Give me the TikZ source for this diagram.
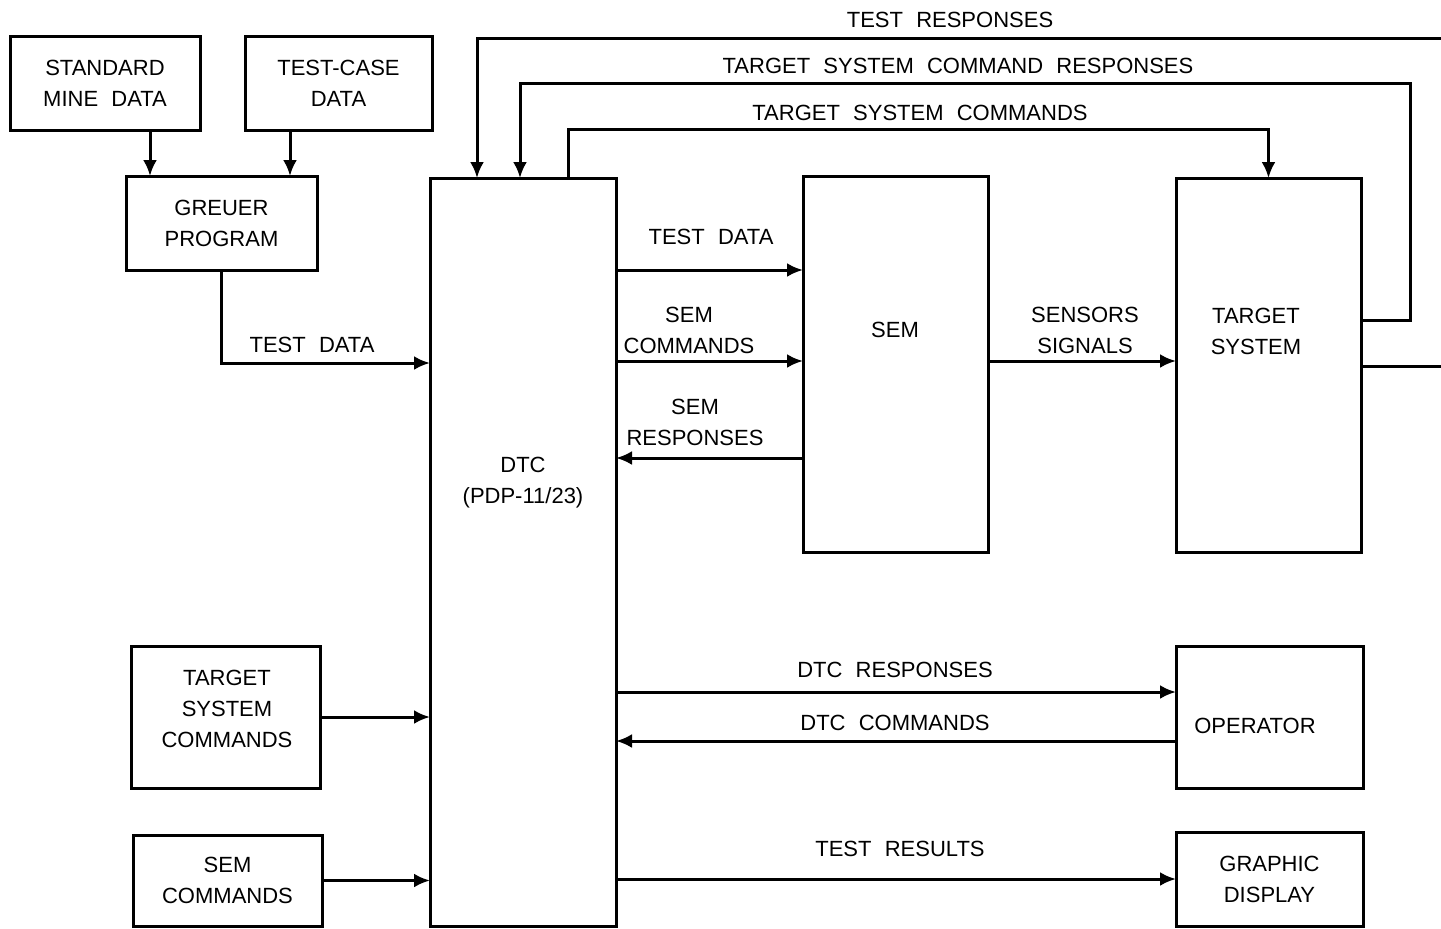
\documentclass[tikz,border=0pt]{standalone}
\usepackage{fontspec}
\setmainfont{Liberation Sans}
\usetikzlibrary{arrows.meta}
\tikzset{
  blk/.style={draw, line width=1.5pt, inner sep=0pt, outer sep=0pt, align=center},
  conn/.style={line width=1.5pt},
  arr/.style={conn, -{Latex[length=8pt,width=7pt]}},
  lbl/.style={align=center, inner sep=0pt},
}
\begin{document}
\begin{tikzpicture}[x=0.5pt,y=-0.5pt,font={\fontsize{11}{15.5}\selectfont\spaceskip=.6em\relax}]
        \useasboundingbox (0,0) rectangle (1441,928);

        \node[blk, minimum width=95pt, minimum height=47pt] (smd) at (105,83) {STANDARD\\MINE DATA};
        \node[blk, minimum width=93.5pt, minimum height=47pt] (tcd) at (338.5,83) {TEST-CASE\\DATA};
        \node[blk, minimum width=95.5pt, minimum height=47pt] (greuer) at (221.5,223) {GREUER\\PROGRAM};
        \node[blk, minimum width=93pt, minimum height=374pt] (dtc) at (523,552) {};
        \node[lbl] (dtclbl) at (523,483) {DTC\\(PDP-11/23)};
        \node[blk, minimum width=92.5pt, minimum height=188pt] (sem) at (895.5,364) {};
        \node[lbl] (semlbl) at (895,330) {SEM};
        \node[blk, minimum width=92.5pt, minimum height=187pt] (ts) at (1268.5,365) {};
        \node[lbl] (tslbl) at (1256,331) {TARGET\\SYSTEM};
        \node[blk, minimum width=94.5pt, minimum height=71pt] (tsc) at (225.5,717) {};
        \node[lbl] (tsclbl) at (227,709) {TARGET\\SYSTEM\\COMMANDS};
        \node[blk, minimum width=94.5pt, minimum height=45.5pt] (semc) at (227.5,880.5) {SEM\\COMMANDS};
        \node[blk, minimum width=93.5pt, minimum height=71pt] (op) at (1269.5,717) {};
        \node[lbl] (oplbl) at (1255,726) {OPERATOR};
        \node[blk, minimum width=93.5pt, minimum height=47pt] (gd) at (1269.5,879) {GRAPHIC\\DISPLAY};

        \coordinate (trout) at (1441,366);
        \coordinate (trin) at (1441,38);

        \draw[arr] (smd.south -| 150,0) -- (greuer.north -| 150,0);
        \draw[arr] (tcd.south -| 290,0) -- (greuer.north -| 290,0);
        \draw[arr] (greuer.south) |- (dtc.west |- 0,363);

        \draw[arr] (dtc.east |- 0,270) -- (sem.west |- 0,270);
        \draw[arr] (dtc.east |- 0,361) -- (sem.west |- 0,361);
        \draw[arr] (sem.west |- 0,458) -- (dtc.east |- 0,458);
        \draw[arr] (sem.east |- 0,361) -- (ts.west |- 0,361);

        \draw[arr] (ts.east |- 0,320) -| (1410,83) -| (dtc.north -| 520,0);
        \draw[conn] (ts.east |- trout) -- (trout);
        \draw[arr] (trin) -| (dtc.north -| 477,0);
        \draw[arr] (dtc.north -| 568,0) |- (ts.north |- 0,129) -- (ts.north);

        \draw[arr] (tsc.east) -- (tsc.east -| dtc.west);
        \draw[arr] (semc.east) -- (semc.east -| dtc.west);
        \draw[arr] (dtc.east |- 0,692) -- (op.west |- 0,692);
        \draw[arr] (op.west |- 0,741) -- (dtc.east |- 0,741);
        \draw[arr] (dtc.east |- gd.west) -- (gd.west);

        \node[lbl] at (312,345) {TEST DATA};
        \node[lbl] at (711,237) {TEST DATA};
        \node[lbl] at (689,330) {SEM\\COMMANDS};
        \node[lbl] at (695,422) {SEM\\RESPONSES};
        \node[lbl] at (1085,330) {SENSORS\\SIGNALS};
        \node[lbl] at (950,20) {TEST RESPONSES};
        \node[lbl] at (958,66) {TARGET SYSTEM COMMAND RESPONSES};
        \node[lbl] at (920,113) {TARGET SYSTEM COMMANDS};
        \node[lbl] at (895,670) {DTC RESPONSES};
        \node[lbl] at (895,723) {DTC COMMANDS};
        \node[lbl] at (900,849) {TEST RESULTS};

\end{tikzpicture}
\end{document}
